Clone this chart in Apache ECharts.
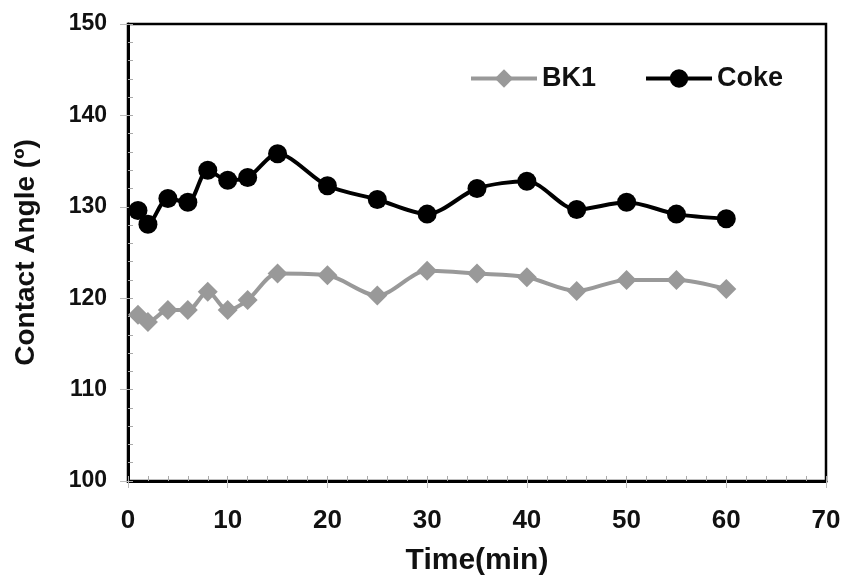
<!DOCTYPE html>
<html>
<head>
<meta charset="utf-8">
<script src="https://cdn.jsdelivr.net/npm/echarts@6/dist/echarts.min.js"></script>
<style>
  html, body { margin: 0; padding: 0; background: #fff; }
  #chart { width: 844px; height: 577px; }
</style>
</head>
<body>
<div id="chart"></div>
<script>
// time in minutes
const times = [1, 2, 4, 6, 8, 10, 12, 15, 20, 25, 30, 35, 40, 45, 50, 55, 60];
const bk1 = [118.2, 117.4, 118.7, 118.7, 120.7, 118.7, 119.8, 122.7, 122.5, 120.3, 123.0, 122.7, 122.3, 120.8, 122.0, 122.0, 121.0];
const coke = [129.6, 128.1, 130.9, 130.5, 134.0, 132.9, 133.2, 135.8, 132.3, 130.8, 129.2, 132.0, 132.8, 129.7, 130.5, 129.2, 128.7];

const font = '"Liberation Sans", Arial, sans-serif';

const pairs = (ys) => times.map((t, i) => [t, ys[i]]);

const chart = echarts.init(document.getElementById('chart'));
chart.setOption({
  animation: false,
  backgroundColor: '#fff',
  grid: {
    left: 128, right: 18, top: 24, bottom: 96,
    outerBoundsMode: 'none',
    show: true, borderColor: '#000', borderWidth: 2.5
  },
  legend: {
    top: 60, left: 464,
    itemGap: 48,
    itemWidth: 66, itemHeight: 23,
    lineStyle: { width: 4 },
    textStyle: { fontFamily: font, fontWeight: 'bold', fontSize: 27, color: '#111' },
    data: ['BK1', 'Coke']
  },
  xAxis: [
    {
      type: 'value', min: 0, max: 70, interval: 10,
      name: 'Time(min)', nameLocation: 'middle', nameGap: 65,
      nameTextStyle: { fontFamily: font, fontWeight: 'bold', fontSize: 30, color: '#111' },
      axisLine: { lineStyle: { color: '#000', width: 3 } },
      axisTick: { show: true, length: 7, lineStyle: { color: '#bbb', width: 1 } },
      axisLabel: { fontFamily: font, fontWeight: 'bold', fontSize: 26, color: '#111', margin: 27 },
      splitLine: { show: false }
    },
    {
      type: 'value', min: 0, max: 70, interval: 2, position: 'bottom',
      axisLine: { show: false },
      axisTick: { show: true, inside: true, length: 5, lineStyle: { color: '#aaa', width: 1 } },
      axisLabel: { show: false },
      splitLine: { show: false }
    }
  ],
  yAxis: [
    {
      type: 'value', min: 100, max: 150, interval: 10,
      name: 'Contact Angle (º)', nameLocation: 'middle', nameGap: 88,
      nameTextStyle: { fontFamily: font, fontWeight: 'bold', fontSize: 28, color: '#111' },
      axisLine: { show: true, lineStyle: { color: '#000', width: 3 } },
      axisTick: { show: true, length: 8, lineStyle: { color: '#bbb', width: 1 } },
      axisLabel: { fontFamily: font, fontWeight: 'bold', fontSize: 23, color: '#111', margin: 21 },
      splitLine: { show: false }
    },
    {
      type: 'value', min: 100, max: 150, interval: 2, position: 'left',
      axisLine: { show: false },
      axisTick: { show: true, inside: true, length: 5, lineStyle: { color: '#aaa', width: 1 } },
      axisLabel: { show: false },
      splitLine: { show: false }
    }
  ],
  series: [
    {
      name: 'BK1', type: 'line', data: pairs(bk1),
      smooth: 0.3,
      symbol: 'diamond', symbolSize: 20,
      lineStyle: { color: '#999', width: 4 },
      itemStyle: { color: '#999' }
    },
    {
      name: 'Coke', type: 'line', data: pairs(coke),
      smooth: 0.3,
      symbol: 'circle', symbolSize: 19,
      lineStyle: { color: '#000', width: 4 },
      itemStyle: { color: '#000' }
    }
  ]
});
</script>
</body>
</html>
